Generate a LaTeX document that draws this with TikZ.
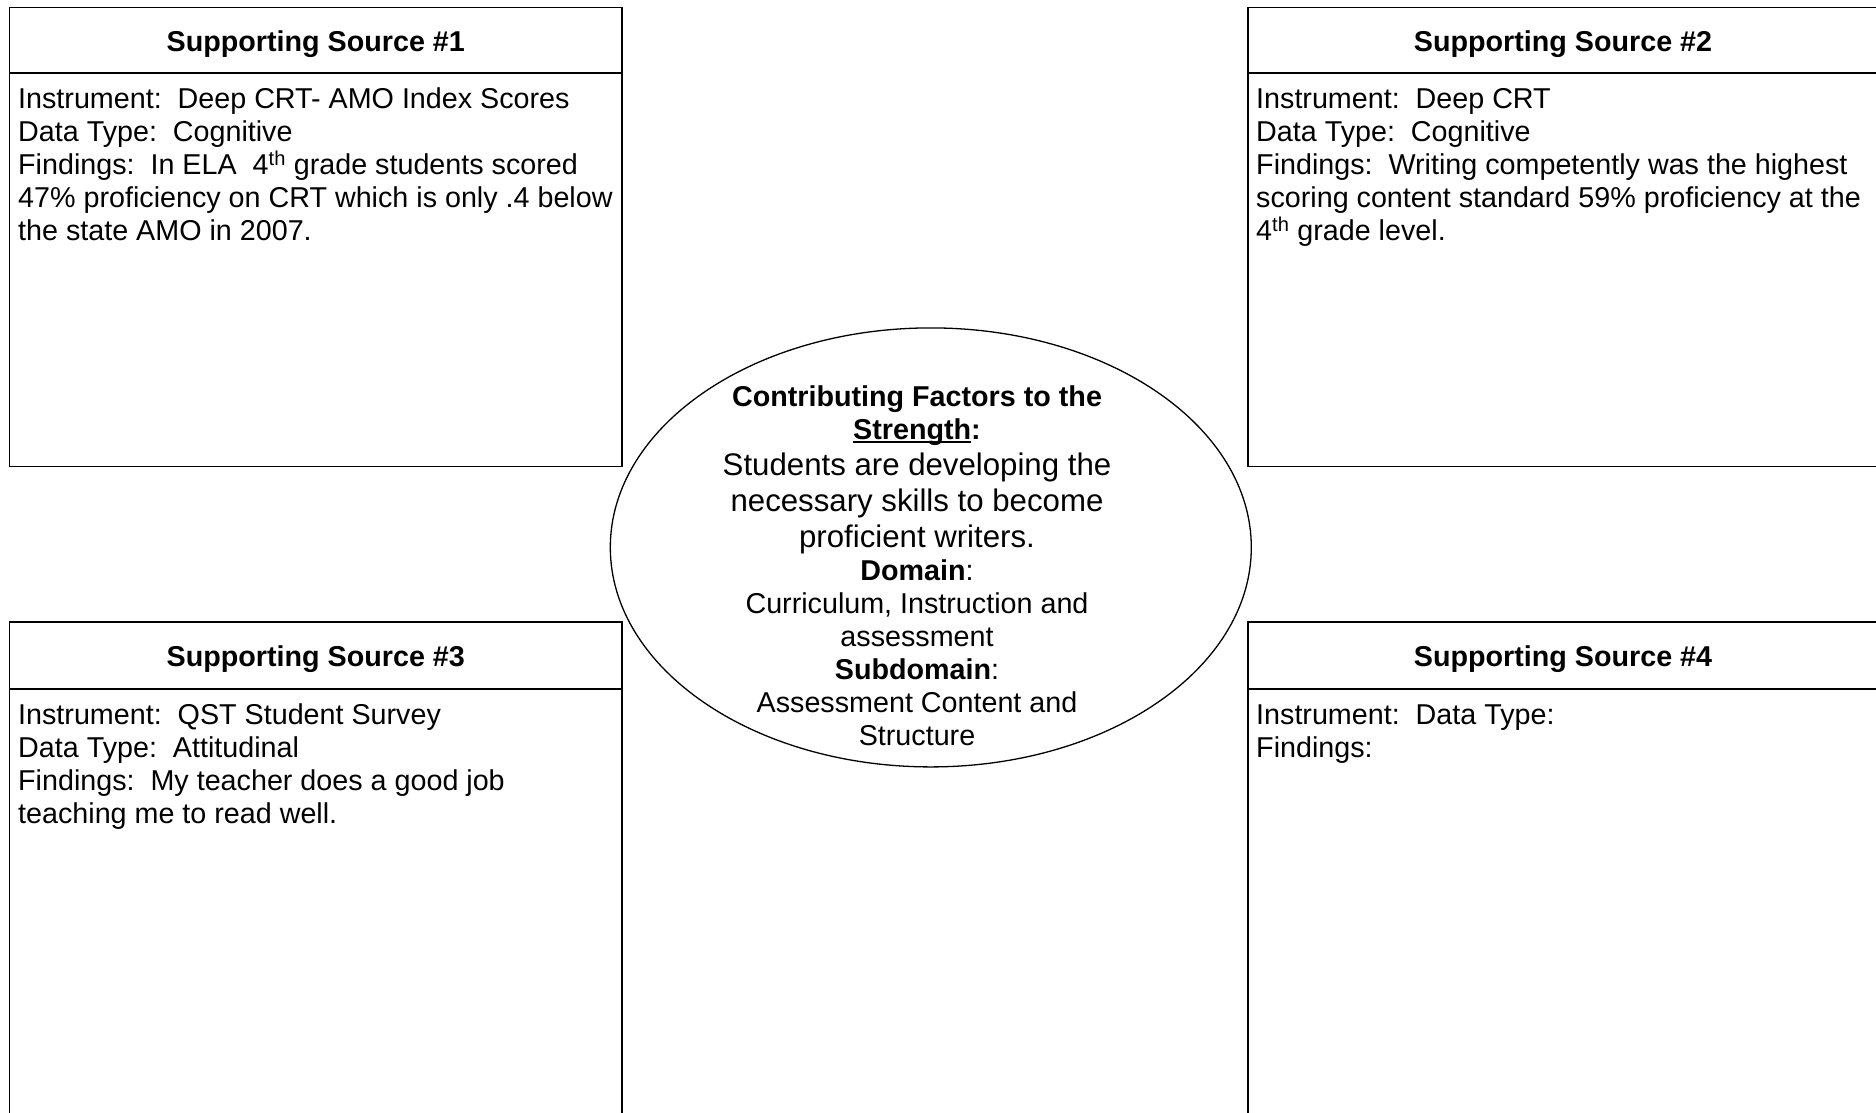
\documentclass[tikz,border=0pt]{standalone}
\usepackage{fontspec}
\setmainfont{Liberation Sans}
\usetikzlibrary{shapes.geometric}
% thick underline for a single word
\newcommand\ulword[1]{\setbox0\hbox{#1}\rlap{\rule[-4pt]{\wd0}{2.4pt}}\box0}
\newcommand\bigline{\fontsize{31.2}{36}\selectfont}
\begin{document}
\begin{tikzpicture}[x=1pt,y=-1pt,
  frame/.style={draw=black,line width=1.2pt},
  head/.style={font=\fontsize{28.7}{33}\selectfont\bfseries,inner sep=0pt,anchor=base},
  body/.style={font=\fontsize{28.7}{33}\selectfont,align=left,anchor=north west,inner sep=0pt},
  core/.style={draw=black,line width=1.3pt,fill=white,ellipse,inner sep=0pt},
  coretext/.style={font=\fontsize{28.7}{33}\selectfont,align=center,anchor=north,inner sep=0pt}
]
\path[use as bounding box,fill=white] (0,0) rectangle (1876,1112);
\clip (0,0) rectangle (1876,1112);

% four source boxes: outer frame and header rule
\draw[frame] (9.6,7.2) rectangle (622,466.6) (9.6,73) -- (622,73);
\draw[frame] (1248,7.2) rectangle (1885,466.6) (1248,73) -- (1885,73);
\draw[frame] (9.6,622) rectangle (622,1125) (9.6,689) -- (622,689);
\draw[frame] (1248,622) rectangle (1885,1125) (1248,689) -- (1885,689);

% headers
\node[head] (h1) at (315.8,51) {Supporting Source \#1};
\node[head] (h2) at (1563,51) {Supporting Source \#2};
\node[head] (h3) at (315.8,666) {Supporting Source \#3};
\node[head] (h4) at (1563,666) {Supporting Source \#4};

% box contents
\node[body] (b1) at (18,85) {\strut Instrument:\ \ Deep CRT- AMO Index Scores\\
Data Type:\ \ Cognitive\\
Findings:\ \ In ELA\ \ 4\textsuperscript{th} grade students scored\\
47\% proficiency on CRT which is only .4 below\\
the state AMO in 2007.};
\node[body] (b2) at (1256,85) {\strut Instrument:\ \ Deep CRT\\
Data Type:\ \ Cognitive\\
Findings:\ \ Writing competently was the highest\\
scoring content standard 59\% proficiency at the\\
4\textsuperscript{th} grade level.};
\node[body] (b3) at (18,701) {\strut Instrument:\ \ QST Student Survey\\
Data Type:\ \ Attitudinal\\
Findings:\ \ My teacher does a good job\\
teaching me to read well.};
\node[body] (b4) at (1256,701) {\strut Instrument:\ \ Data Type:\\
Findings:};

% central ellipse
\node[core,minimum width=641,minimum height=439] (hub) at (930.8,547.4) {};
\node[coretext] (hubtext) at (917,383) {\strut\textbf{Contributing Factors to the}\\
\textbf{\ulword{Strength}:}\\[3pt]
{\bigline Students are developing the}\\[3pt]
{\bigline necessary skills to become}\\[3pt]
{\bigline proficient writers.}\\
\textbf{Domain}:\\
Curriculum, Instruction and\\
assessment\\
\textbf{Subdomain}:\\
Assessment Content and\\
Structure};
\end{tikzpicture}
\end{document}
